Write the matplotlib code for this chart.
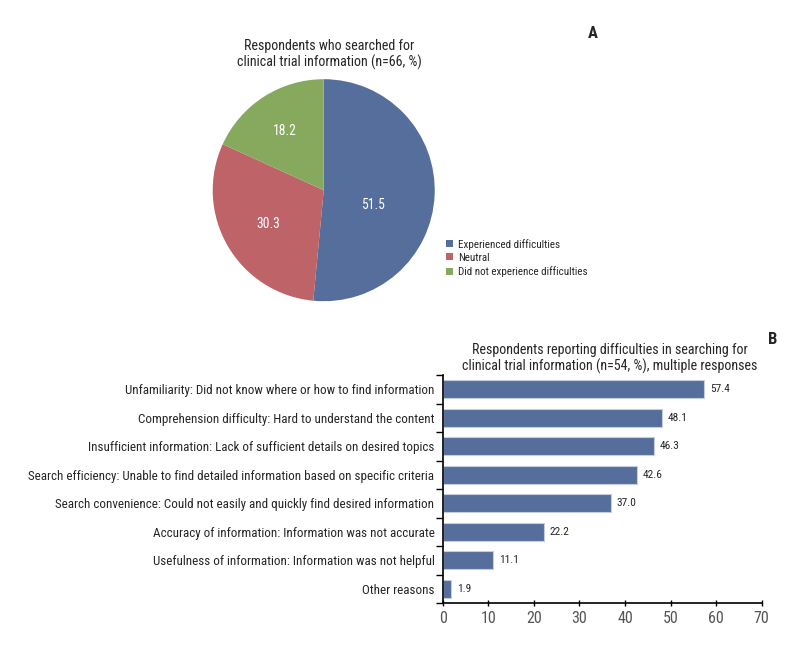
import matplotlib
matplotlib.use("Agg")
import matplotlib.pyplot as plt
import numpy as np

plt.rcParams['font.family'] = ['Roboto Condensed', 'Archivo Narrow', 'DejaVu Sans']
plt.rcParams['text.color'] = '#262626'

# pie data
pie_labels = ['Experienced difficulties', 'Neutral', 'Did not experience difficulties']
pie_values = [51.5, 30.3, 18.2]
pie_colors = ['#566E9B', '#BE6368', '#86A95E']

# bar data
reasons = [
    'Unfamiliarity: Did not know where or how to find information',
    'Comprehension difficulty: Hard to understand the content',
    'Insufficient information: Lack of sufficient details on desired topics',
    'Search efficiency: Unable to find detailed information based on specific criteria',
    'Search convenience: Could not easily and quickly find desired information',
    'Accuracy of information: Information was not accurate',
    'Usefulness of information: Information was not helpful',
    'Other reasons',
]
reason_values = [57.4, 48.1, 46.3, 42.6, 37.0, 22.2, 11.1, 1.9]

fig = plt.figure(figsize=(8.07, 6.45), dpi=100)

# panel A - pie
ax1 = fig.add_axes([0.2636, 0.5330, 0.2751, 0.3442])
wedges, _ = ax1.pie(pie_values, colors=pie_colors, startangle=90, counterclock=False,
                    wedgeprops=dict(linewidth=0))
ax1.set_xlim(-1, 1)
ax1.set_ylim(-1, 1)
ax1.set_aspect('equal')
label_pos = [(0.44, -0.135), (-0.495, -0.306), (-0.35, 0.53)]
for v, (x, y) in zip(pie_values, label_pos):
    ax1.text(x, y, f'{v:.1f}', color='white', fontsize=9.8, ha='center', va='center')
fig.text(0.408, 0.915, 'Respondents who searched for\nclinical trial information (n=66, %)',
         ha='center', va='center', fontsize=10.1, linespacing=1.12)
fig.legend(wedges, pie_labels, loc='upper left', bbox_to_anchor=(0.553, 0.630),
           frameon=False, fontsize=7.9, handlelength=0.6, handleheight=0.6,
           handletextpad=0.45, labelspacing=0.3, borderaxespad=0, borderpad=0)
fig.text(0.735, 0.948, 'A', fontsize=12, fontweight='bold', ha='center', va='center')

# panel B - bars
ax2 = fig.add_axes([0.5486, 0.0651, 0.3953, 0.3535])
ypos = np.arange(len(reasons))
ax2.barh(ypos, reason_values, height=0.62, color='#566E9B', edgecolor='#C5CEDF', linewidth=0.8)
for y, v in zip(ypos, reason_values):
    ax2.text(v + 1.2, y, f'{v:.1f}', va='center', ha='left', fontsize=8.2)
ax2.set_ylim(len(reasons) - 0.5, -0.5)
ax2.set_xlim(0, 70)
ax2.set_xticks(np.arange(0, 71, 10))
ax2.set_yticks(ypos)
ax2.set_yticklabels(reasons, fontsize=9.4, color='#262626')
ax2.set_yticks(np.arange(-0.5, len(reasons), 1), minor=True)
ax2.tick_params(axis='y', which='major', length=0, pad=6)
ax2.tick_params(axis='y', which='minor', length=5, width=1, direction='out')
ax2.tick_params(axis='x', length=5, width=1, direction='inout', labelsize=11.5, labelcolor='#555555')
for s in ['top', 'right']:
    ax2.spines[s].set_visible(False)
ax2.spines['left'].set_linewidth(1.2)
ax2.spines['bottom'].set_linewidth(1.2)
fig.text(0.756, 0.444, 'Respondents reporting difficulties in searching for\nclinical trial information (n=54, %), multiple responses',
         ha='center', va='center', fontsize=10.05, linespacing=1.12)
fig.text(0.958, 0.473, 'B', fontsize=12, fontweight='bold', ha='center', va='center')

fig.savefig('out.png', dpi=100)
